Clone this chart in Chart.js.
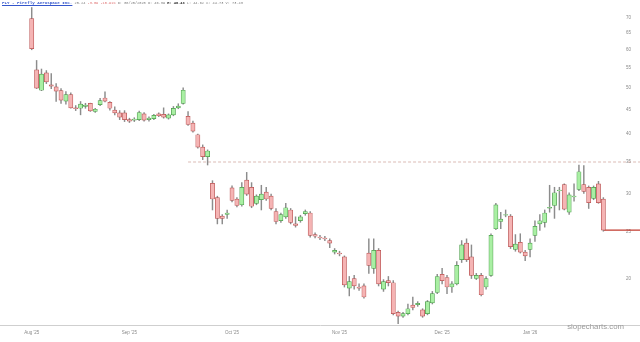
<!DOCTYPE html>
<html>
<head>
<meta charset="utf-8">
<script src="https://cdn.jsdelivr.net/npm/chart.js@4.4.1/dist/chart.umd.min.js"></script>
<style>
  html, body { margin: 0; padding: 0; background: #fff; }
  #wrap { position: relative; width: 640px; height: 342px; }
  #head { position: absolute; left: 2px; top: 1px; font-family: "Liberation Mono", monospace; font-size: 3.6px; line-height: 5px; color: #7a7a7a; white-space: pre; }
  #head .nm { color: #3355cc; text-decoration: underline; font-weight: bold; font-size: 4.2px; }
  #head .dn { color: #e07070; }
  #head .b { color: #222; font-weight: bold; }
  #mark { position: absolute; right: 16px; top: 322px; font-family: "Liberation Sans", Arial, sans-serif; font-size: 7.8px; color: #9a9a9a; }
</style>
</head>
<body>
<div id="wrap">
  <canvas id="myChart"></canvas>
  <div id="head"><span class="nm">FLY - Firefly Aerospace Inc.</span> 25.24 <span class="dn">-3.09 -10.91%</span> D: 08/25/2025 O: 46.39 <span class="b">H: 46.43</span> L: 44.62 C: 44.73 V: 73.43</div>
  <div id="mark">slopecharts.com</div>
</div>
<script>
// daily candles, Aug 7 2025 onward
opens = [69.7,54.5,49.4,53.7,50.7,50.2,49.3,46.9,48.4,45.4,45.3,45.7,46.39,44.6,46.1,47.6,46.6,44.9,44.3,44.3,
  42.9,42.8,42.9,44.1,42.9,43.1,44.1,44.0,43.2,43.9,45.4,46.4,43.6,42.2,39.9,37.6,35.9,31.6,29.5,27.0,
  27.2,30.9,29.3,28.5,32.1,31.0,28.7,29.2,30.3,29.7,27.6,26.4,26.9,27.8,26.0,26.4,27.3,27.4,24.7,24.4,
  24.3,24.0,22.7,22.6,22.2,19.1,20.0,19.2,19.3,22.6,21.0,22.9,19.0,19.8,19.6,17.0,16.7,16.9,17.6,17.65,
  17.2,16.9,17.8,18.7,20.4,20.1,19.2,19.5,21.9,23.7,22.2,20.0,20.3,19.2,20.3,25.4,26.3,27.1,27.0,23.0,
  23.8,22.7,23.0,24.6,26.0,26.2,28.05,28.4,30.5,31.4,27.5,29.6,30.7,31.4,31.0,29.4,31.5,29.3];
highs = [73.5,57.0,54.7,54.3,53.5,51.0,49.8,49.1,48.8,45.9,46.8,46.4,46.43,45.3,47.5,49.0,46.8,45.6,44.8,44.8,
  43.2,43.3,44.7,44.4,43.5,44.0,44.3,45.4,44.1,45.7,46.3,50.0,44.6,42.6,40.0,38.0,37.1,32.0,29.7,27.2,
  27.8,31.2,29.5,31.7,33.3,31.7,29.9,31.3,31.0,30.0,28.0,27.4,28.7,28.0,26.9,27.1,27.8,27.6,24.9,24.6,
  24.5,24.2,23.1,22.8,22.3,20.2,20.3,19.5,19.5,24.2,24.2,23.1,19.9,20.2,19.8,17.1,17.0,17.7,18.3,17.9,
  17.3,18.0,18.8,20.4,21.0,20.3,19.7,21.7,24.0,24.2,23.5,20.5,20.5,20.2,24.8,28.7,27.5,27.8,27.2,24.7,
  24.8,22.9,24.2,26.4,27.2,27.8,31.3,31.0,31.0,31.5,30.2,31.5,34.5,34.4,31.2,31.2,31.9,29.5];
lows = [60.0,49.8,49.3,51.0,49.8,46.8,46.4,46.2,45.3,44.8,43.9,45.3,44.62,44.4,45.9,46.7,44.9,43.9,42.9,42.5,
  42.3,42.5,42.7,42.6,42.6,42.9,43.5,43.2,43.0,43.7,45.2,46.2,41.7,40.4,37.4,35.4,34.5,27.8,26.0,26.0,
  26.7,28.9,28.2,28.3,29.8,28.1,28.5,27.8,29.1,27.8,26.0,26.2,26.7,26.0,25.6,26.2,27.1,24.4,24.3,24.1,
  24.0,23.2,22.5,22.3,19.2,18.4,19.0,18.9,18.2,20.5,20.5,19.3,18.8,19.3,16.8,16.1,16.6,16.8,17.2,17.5,
  16.6,16.8,17.7,18.6,19.5,18.6,18.7,19.4,21.6,21.7,20.0,19.9,18.4,19.0,20.2,25.3,25.4,26.9,23.1,22.8,
  22.6,21.8,22.2,23.9,25.2,25.6,27.5,26.7,27.8,27.8,27.2,29.0,30.5,30.1,28.0,29.2,28.7,25.1];
closes = [60.3,49.9,53.4,51.4,50.4,49.2,47.1,48.4,45.4,45.2,46.2,46.0,44.73,45.1,47.0,46.9,45.3,44.3,43.4,42.9,
  42.6,43.0,44.4,42.8,43.2,43.8,43.7,43.4,43.9,45.3,45.8,49.4,41.9,40.6,37.6,35.9,36.9,29.3,26.7,26.7,
  27.4,29.1,28.4,31.0,30.0,28.3,29.7,30.0,29.3,28.0,26.3,27.2,28.1,26.2,25.8,26.9,27.6,24.6,24.5,24.3,
  24.2,23.7,22.9,22.5,19.4,19.7,19.3,19.1,18.3,21.3,22.9,19.5,19.7,19.6,16.9,16.7,16.9,17.3,17.4,17.75,
  16.7,17.9,18.6,20.2,19.8,19.2,19.5,21.3,23.5,21.9,20.3,20.3,18.5,20.0,24.6,28.5,26.6,27.2,23.3,23.6,
  22.7,22.3,23.7,25.7,26.4,27.4,28.15,30.2,30.6,27.9,29.9,29.7,33.4,30.4,28.8,31.0,28.8,25.24];

monthLabels = ["Aug '25", "Sep '25", "Oct '25", "Nov '25", "Dec '25", "Jan '26"];
monthIdx = [0, 20, 41, 63, 84, 102];
priceTicks = [20, 25, 30, 35, 40, 45, 50, 55, 60, 65, 70];
alertLevel = 35;
alertFrom = 32;

window.onload = function() {
    var xMin = -6.49, xMax = 124.5;
    var last = closes.length - 1;
    var up = opens.map((o, i) => closes[i] >= o);

    var bodies = opens.map((o, i) => ({x: i, y: [o, closes[i]]}));
    var wicks = lows.map((l, i) => ({x: i, y: [l, highs[i]]}));

    const myChart = new Chart(document.getElementById("myChart"), {
        type: 'bar',
        data: {
            datasets: [{
                data: bodies,
                grouped: false,
                order: 1,
                barThickness: 4.2,
                borderWidth: 0.7,
                borderSkipped: false,
                backgroundColor: up.map(u => u ? '#a9efa3' : '#f5b4b4'),
                borderColor: up.map(u => u ? '#4a9a4a' : '#b85050')
            }, {
                data: wicks,
                grouped: false,
                order: 2,
                barThickness: 0.8,
                borderWidth: 0,
                backgroundColor: '#8c8c8c'
            }, {
                type: 'line',
                order: 3,
                data: [{x: last, y: closes[last]}, {x: xMax, y: closes[last]}],
                borderColor: '#c23a2e',
                borderWidth: 1.3,
                pointRadius: 0
            }, {
                type: 'line',
                order: 4,
                data: [{x: alertFrom, y: alertLevel}, {x: xMax, y: alertLevel}],
                borderColor: 'rgba(200,150,140,0.8)',
                borderWidth: 0.8,
                borderDash: [3, 2],
                pointRadius: 0
            }]
        },
        options: {
            responsive: true,
            maintainAspectRatio: false,
            animation: false,
            layout: { padding: { left: 0, right: 0, top: 0, bottom: 1.6 } },
            plugins: { legend: { display: false }, tooltip: { enabled: false } },
            scales: {
                x: {
                    type: 'linear',
                    min: xMin,
                    max: xMax,
                    offset: false,
                    grid: { display: false, drawTicks: false },
                    border: { color: '#cfcfcf', width: 1 },
                    afterBuildTicks: ax => { ax.ticks = monthIdx.map(v => ({value: v})); },
                    ticks: {
                        autoSkip: false,
                        maxRotation: 0,
                        padding: 5,
                        color: '#8a8a8a',
                        font: { size: 4.5 },
                        callback: v => monthLabels[monthIdx.indexOf(v)]
                    }
                },
                y: {
                    type: 'logarithmic',
                    position: 'right',
                    min: 16.0,
                    max: 76.2,
                    grid: { display: false, drawTicks: false },
                    border: { display: false },
                    afterBuildTicks: ax => { ax.ticks = priceTicks.map(v => ({value: v})); },
                    ticks: {
                        mirror: true,
                        padding: -9,
                        color: '#8a8a8a',
                        font: { size: 4.5 },
                        callback: v => v
                    }
                }
            }
        }
    });
};
</script>
</body>
</html>
